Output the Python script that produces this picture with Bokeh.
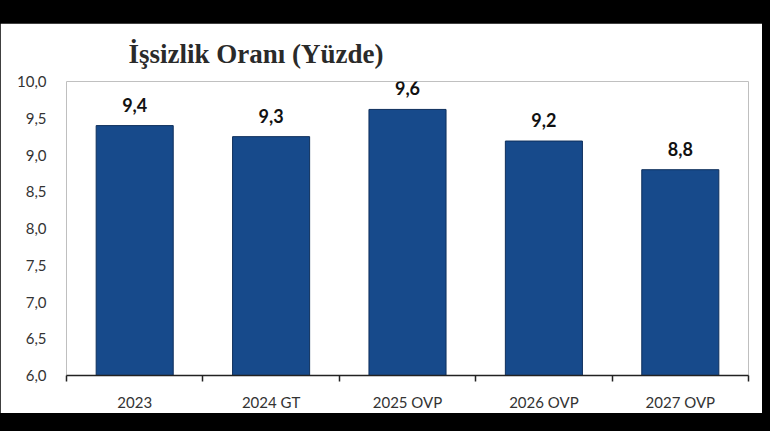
from bokeh.plotting import figure
from bokeh.models import (ColumnDataSource, LabelSet, FixedTicker, CustomJSTickFormatter,
                          Spacer, Range1d)
from bokeh.core.properties import value
from bokeh.layouts import column
from bokeh.embed import file_html
from bokeh.resources import INLINE

title_text = "İşsizlik Oranı (Yüzde)"
categories = ["2023", "2024 GT", "2025 OVP", "2026 OVP", "2027 OVP"]
values = [9.4, 9.25, 9.62, 9.19, 8.8]
value_labels = ["9,4", "9,3", "9,6", "9,2", "8,8"]
y_ticks = [6.0, 6.5, 7.0, 7.5, 8.0, 8.5, 9.0, 9.5, 10.0]

xs = [i + 0.5 for i in range(len(categories))]
src = ColumnDataSource(dict(x=xs, top=values, label=value_labels))

p = figure(width=762, height=390, output_backend="svg", toolbar_location=None,
           x_range=Range1d(0, len(categories)), y_range=Range1d(6.0, 10.0),
           title=title_text,
           min_border_left=66, min_border_right=14, min_border_top=58, min_border_bottom=37)

p.title.text_font = "Liberation Serif"
p.title.text_font_size = "27px"
p.title.text_font_style = "bold"
p.title.text_color = "#2a2a2a"
p.title.align = "left"
p.title.offset = 62
p.title.standoff = 26

p.vbar(x="x", top="top", bottom=6.0, width=0.565, source=src,
       fill_color="#174A8B", line_color="#0E2F5C", line_width=1)

labels = LabelSet(x="x", y="top", text="label", source=src, y_offset=21,
                  text_align="center", text_baseline="middle",
                  text_font=value("Lato"), text_font_size=value("18px"),
                  text_font_style="bold", text_color="#111111")
p.add_layout(labels)

p.xgrid.visible = False
p.ygrid.visible = False
p.outline_line_color = None
p.background_fill_color = "white"
p.border_fill_color = "white"

# x axis: labels at centers, boundary ticks as minor ticks
p.xaxis.ticker = FixedTicker(ticks=xs, minor_ticks=list(range(len(categories) + 1)))
p.xaxis.major_label_overrides = {x: c for x, c in zip(xs, categories)}
p.xaxis.major_tick_in = 0
p.xaxis.major_tick_out = 0
p.xaxis.minor_tick_in = 0
p.xaxis.minor_tick_out = 6
p.xaxis.minor_tick_line_color = "#222222"
p.xaxis.minor_tick_line_width = 1.5
p.xaxis.axis_line_color = "#222222"
p.xaxis.axis_line_width = 1.5
p.xaxis.major_label_standoff = 11
p.xaxis.major_label_text_font = "Lato"
p.xaxis.major_label_text_font_size = "15px"
p.xaxis.major_label_text_color = "#333333"

# y axis
p.yaxis.ticker = FixedTicker(ticks=y_ticks)
p.yaxis.formatter = CustomJSTickFormatter(code="return tick.toFixed(1).replace('.', ',');")
p.yaxis.axis_line_color = None
p.yaxis.major_tick_line_color = None
p.yaxis.minor_tick_line_color = None
p.yaxis.major_label_standoff = 14
p.yaxis.major_label_text_font = "Lato"
p.yaxis.major_label_text_font_size = "15px"
p.yaxis.major_label_text_color = "#333333"

layout = column(Spacer(width=770, height=23), p, Spacer(width=770, height=18),
                width=770, height=431, spacing=0,
                styles={"background-color": "black"})

open("out.html", "w").write(file_html(layout, INLINE))
